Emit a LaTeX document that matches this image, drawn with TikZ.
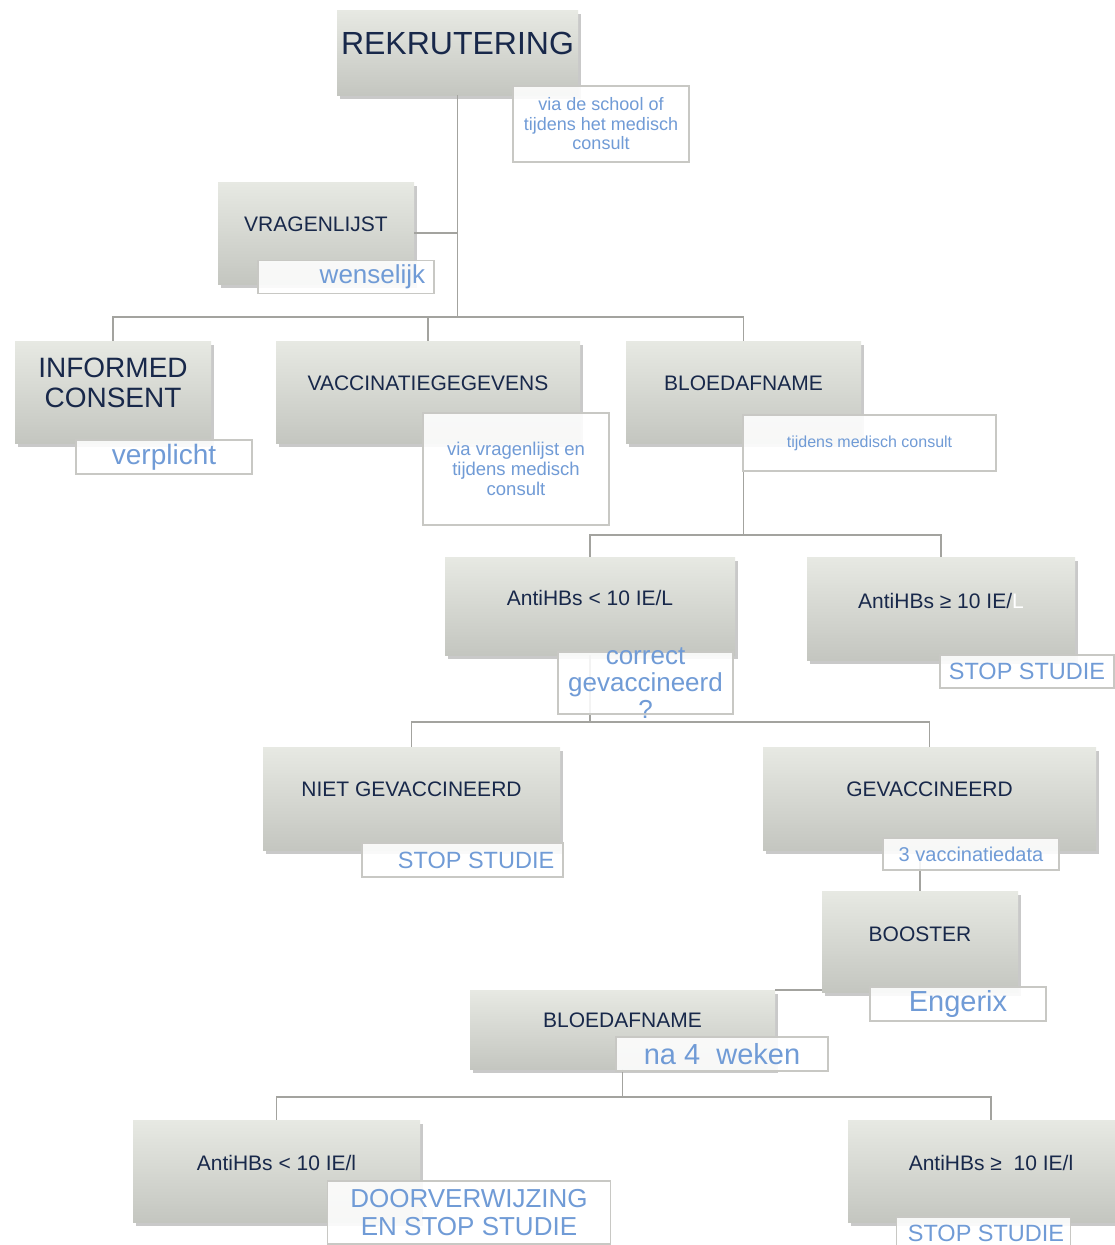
\documentclass[tikz,border=0pt]{standalone}
\usepackage{fontspec}
\setmainfont{Liberation Sans}
\usetikzlibrary{shadows}

\definecolor{cardtop}{RGB}{231,233,227}
\definecolor{cardbot}{RGB}{196,198,192}
\definecolor{cardink}{RGB}{24,40,74}
\definecolor{noteink}{RGB}{112,155,214}
\definecolor{noteline}{RGB}{200,200,196}
\definecolor{linkgray}{RGB}{163,163,159}
\newcommand{\pts}[2]{\fontsize{#1}{#2}\selectfont}

\tikzset{
  card/.style={rectangle, inner sep=0pt, top color=cardtop, bottom color=cardbot,
    drop shadow={shadow xshift=2.5pt, shadow yshift=-3.5pt, opacity=0.3, fill=black!70}},
  cardtext/.style={text=cardink, align=center, yshift=9pt, font=\pts{21}{23}},
  note/.style={rectangle, inner sep=0pt, draw=noteline, line width=1.5pt,
    fill=white, fill opacity=0.88},
  notetext/.style={text=noteink, align=center, text opacity=1},
  link/.style={draw=linkgray, line width=1.8pt}
}

\begin{document}
\begin{tikzpicture}[x=1pt,y=-1pt]
\useasboundingbox (0,0) rectangle (1115,1245);
% cards
\node[card, minimum width=241pt, minimum height=85pt,
  label={[cardtext,yshift=0.5pt,font=\pts{32}{34}]center:REKRUTERING}] (rek) at (457.5,52.5) {};
\node[card, minimum width=196pt, minimum height=102pt,
  label={[cardtext]center:VRAGENLIJST}] (vrag) at (316,233) {};
\node[card, minimum width=196pt, minimum height=102pt,
  label={[cardtext,font=\pts{28}{30}]center:INFORMED\\CONSENT}] (inf) at (113,392) {};
\node[card, minimum width=304pt, minimum height=102pt,
  label={[cardtext]center:VACCINATIEGEGEVENS}] (vacc) at (428,392) {};
\node[card, minimum width=235pt, minimum height=102pt,
  label={[cardtext]center:BLOEDAFNAME}] (bloed) at (743.5,392) {};
\node[card, minimum width=290pt, minimum height=98pt,
  label={[cardtext,yshift=-1pt]center:AntiHBs < 10 IE/L}] (anti1) at (590,606) {};
\node[card, minimum width=268pt, minimum height=103pt,
  label={[cardtext,yshift=-1.5pt]center:AntiHBs ≥ 10 IE/{\color{white}L}}] (anti2) at (941,608.5) {};
\node[card, minimum width=297pt, minimum height=103pt,
  label={[cardtext]center:NIET GEVACCINEERD}] (niet) at (411.5,798.5) {};
\node[card, minimum width=333pt, minimum height=103pt,
  label={[cardtext]center:GEVACCINEERD}] (gevac) at (929.5,798.5) {};
\node[card, minimum width=196pt, minimum height=101pt,
  label={[cardtext,yshift=-1.5pt]center:BOOSTER}] (booster) at (920,941.5) {};
\node[card, minimum width=305pt, minimum height=79pt,
  label={[cardtext]center:BLOEDAFNAME}] (bloed2) at (622.5,1029.5) {};
\node[card, minimum width=287pt, minimum height=102pt,
  label={[cardtext,yshift=-1pt]center:AntiHBs < 10 IE/l}] (anti3) at (276.5,1171) {};
\node[card, minimum width=286pt, minimum height=102pt,
  label={[cardtext,yshift=-1pt]center:AntiHBs ≥\ \ 10 IE/l}] (anti4) at (991,1171) {};

% connectors
\coordinate (busA) at (0,317);
\coordinate (busB) at (0,535);
\coordinate (busC) at (0,722);
\coordinate (busD) at (0,1097);
\draw[link] (rek.south) -- (rek.south |- busA);
\draw[link] (vrag.east) -- (vrag.east -| rek.south);
\draw[link] (inf.north) |- (busA -| bloed.north) -- (bloed.north);
\draw[link] (vacc.north) -- (vacc.north |- busA);
\draw[link] (bloed.south) -- (bloed.south |- busB);
\draw[link] (anti1.north) |- (busB -| anti2.north) -- (anti2.north);
\draw[link] (anti1.south) -- (anti1.south |- busC);
\draw[link] (niet.north) |- (busC -| gevac.north) -- (gevac.north);
\draw[link] (booster.north |- gevac.south) -- (booster.north);
\draw[link] (bloed2.north east) -- (bloed2.north east -| booster.west);
\draw[link] (bloed2.south) -- (bloed2.south |- busD);
\draw[link] (anti3.north) |- (busD -| anti4.north) -- (anti4.north);

% notes
\node[note, minimum width=176pt, minimum height=76pt,
  label={[notetext,font=\pts{18}{19.5}]center:via de school of\\tijdens het medisch\\consult}] (rekN) at (601,124) {};
\node[note, minimum width=176pt, minimum height=33pt,
  label={[notetext,font=\pts{26}{28},anchor=east,xshift=-6pt]east:wenselijk}] (vragN) at (346,277) {};
\node[note, minimum width=176pt, minimum height=34pt,
  label={[notetext,font=\pts{28}{30}]center:verplicht}] (infN) at (164,457) {};
\node[note, minimum width=186pt, minimum height=112pt,
  label={[notetext,font=\pts{18.5}{19.8}]center:via vragenlijst en\\tijdens medisch\\consult}] (vaccN) at (516,469) {};
\node[note, minimum width=253pt, minimum height=56pt,
  label={[notetext,font=\pts{16}{18}]center:tijdens medisch consult}] (bloedN) at (869.5,443) {};
\node[note, minimum width=175pt, minimum height=62pt,
  label={[notetext,font=\pts{26}{27}]center:correct\\gevaccineerd\\?}] (anti1N) at (645.5,683) {};
\node[note, minimum width=174pt, minimum height=33pt,
  label={[notetext,font=\pts{23.5}{25}]center:STOP STUDIE}] (anti2N) at (1027,671.5) {};
\node[note, minimum width=201pt, minimum height=34pt,
  label={[notetext,font=\pts{23.5}{25},anchor=east,xshift=-6pt]east:STOP STUDIE}] (nietN) at (462.5,860) {};
\node[note, minimum width=176pt, minimum height=32pt,
  label={[notetext,font=\pts{20}{22}]center:3 vaccinatiedata}] (gevacN) at (971,854) {};
\node[note, minimum width=176pt, minimum height=34pt,
  label={[notetext,font=\pts{29}{31}]center:Engerix}] (boosterN) at (958,1004) {};
\node[note, minimum width=212pt, minimum height=34pt,
  label={[notetext,font=\pts{29}{31}]center:na 4\ \ weken}] (bloed2N) at (722,1054) {};
\node[note, minimum width=283pt, minimum height=63pt,
  label={[notetext,font=\pts{26}{28}]center:DOORVERWIJZING\\EN STOP STUDIE}] (anti3N) at (469,1212.5) {};
\node[note, minimum width=174pt, minimum height=33pt,
  label={[notetext,font=\pts{23.5}{25},xshift=2.5pt]center:STOP STUDIE}] (anti4N) at (983.5,1233.5) {};
\end{tikzpicture}
\end{document}
